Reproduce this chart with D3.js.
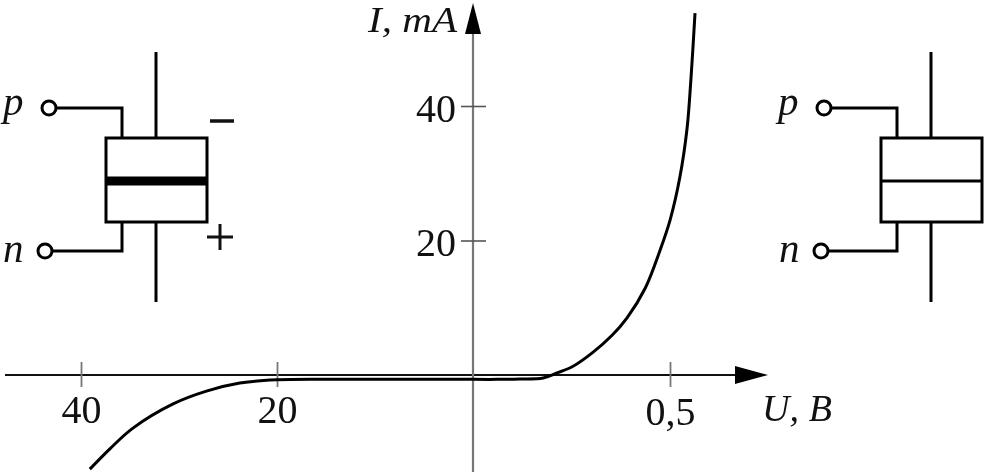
<!DOCTYPE html>
<html><head><meta charset="utf-8">
<script src="https://cdn.jsdelivr.net/npm/d3@7"></script>
<style>html,body{margin:0;padding:0;background:#fff}svg{display:block;filter:blur(.45px)}text{font-family:"Liberation Serif",serif;fill:#111}</style>
</head><body><svg id="c" width="984" height="472"></svg>
<script>
const xTickValues=[-40,-20,0.5], xTickLabels=["40","20","0,5"];
const yTickValues=[20,40], yTickLabels=["20","40"];
const xLabel="U, B", yLabel="I, mA";
const curveU=[-39.1,-37.0,-34.7,-30.6,-27.2,-23.8,-20,-12,-4,0,0.06,0.119,0.178,0.213,0.254,0.305,0.353,0.391,0.437,0.475,0.5,0.525,0.543,0.553,0.5635];
const curveI=[-14,-10.9,-7.9,-4.3,-2.4,-1.2,-0.7,-0.65,-0.65,-0.65,-0.65,-0.6,-0.45,0.3,1.3,3.4,5.9,8.5,12.9,18.6,23.0,29.4,36.5,43.9,53.8];

const svg=d3.select("#c");
const x=d3.scaleLinear().domain([-40,0,0.5]).range([81,473,670]);
const y=d3.scaleLinear().domain([0,40]).range([375,106]);
const X0=x(0),Y0=y(0);

// axis lines
svg.append("line").attr("x1",5).attr("x2",745).attr("y1",Y0).attr("y2",Y0).attr("stroke","#111").attr("stroke-width",2);
svg.append("line").attr("x1",X0).attr("x2",X0).attr("y1",25).attr("y2",472).attr("stroke","#777").attr("stroke-width",2.2);
svg.append("path").attr("d",d3.line()([[735,Y0-9],[768,Y0],[735,Y0+9]])+"Z").attr("fill","#000");
svg.append("path").attr("d",d3.line()([[X0-8,34],[X0,3],[X0+8,34]])+"Z").attr("fill","#000");

// ticks via d3 axes
const gx=svg.append("g").attr("transform",`translate(0,${Y0})`)
 .call(d3.axisBottom(x).tickValues(xTickValues).tickFormat((d,i)=>xTickLabels[i]).tickSize(12).tickPadding(0));
gx.select(".domain").remove();
gx.selectAll("line").attr("y1",-13).attr("stroke","#777").attr("stroke-width",1.8);
gx.selectAll("text").attr("y",0).attr("dy",0).attr("transform",(d)=>`translate(0,${d>0?50:48})`).style("font-size","40px").attr("text-anchor","middle").attr("fill","#111");
const gy=svg.append("g").attr("transform",`translate(${X0},0)`)
 .call(d3.axisLeft(y).tickValues(yTickValues).tickFormat((d,i)=>yTickLabels[i]).tickSize(12).tickPadding(0));
gy.select(".domain").remove();
gy.selectAll("line").attr("x2",13).attr("x1",-12).attr("stroke","#555").attr("stroke-width",1.6);
gy.selectAll("text").attr("x",-17).attr("dy",0).attr("y",15).style("font-size","40px").attr("text-anchor","end").attr("fill","#111");

// curve
const line=d3.line().x(d=>x(d[0])).y(d=>y(d[1])).curve(d3.curveCatmullRom.alpha(0.5));
svg.append("path").attr("d",line(d3.zip(curveU,curveI))).attr("fill","none").attr("stroke","#000").attr("stroke-width",3);

// axis names
svg.append("text").attr("x",368).attr("y",32).style("font-size","36px").style("font-style","italic").attr("textLength",89).attr("lengthAdjust","spacingAndGlyphs").text(yLabel);
svg.append("text").attr("x",762).attr("y",421).style("font-size","38px").style("font-style","italic").attr("textLength",70).text(xLabel);

// diode symbols
function diode(dx,barW,px,nx,pT,nT){
 const g=svg.append("g").attr("transform",`translate(${dx},0)`).attr("fill","none").attr("stroke","#000").attr("stroke-width",3);
 g.append("line").attr("x1",156).attr("x2",156).attr("y1",52).attr("y2",138);
 g.append("line").attr("x1",156).attr("x2",156).attr("y1",222).attr("y2",302);
 g.append("rect").attr("x",106).attr("y",138).attr("width",101).attr("height",84);
 g.append("line").attr("x1",106).attr("x2",207).attr("y1",181).attr("y2",181).attr("stroke-width",barW);
 g.append("path").attr("d",`M${px+7},108H122V138`);
 g.append("path").attr("d",`M${nx+7},251H122V222`);
 g.append("circle").attr("cx",px).attr("cy",108).attr("r",7).attr("fill","#fff");
 g.append("circle").attr("cx",nx).attr("cy",251).attr("r",7).attr("fill","#fff");
 svg.append("text").attr("x",dx+pT).attr("y",115).style("font-size","41px").style("font-style","italic").text("p");
 svg.append("text").attr("x",dx+nT).attr("y",262).style("font-size","41px").style("font-style","italic").text("n");
}
diode(0,9,49,45,3,3);
diode(775,3,49,46,3,4);

// polarity marks
svg.append("path").attr("d","M210,121H234").attr("stroke","#111").attr("stroke-width",3.5);
svg.append("path").attr("d","M207,237H233M220,224V250").attr("stroke","#111").attr("stroke-width",3);
</script></body></html>
